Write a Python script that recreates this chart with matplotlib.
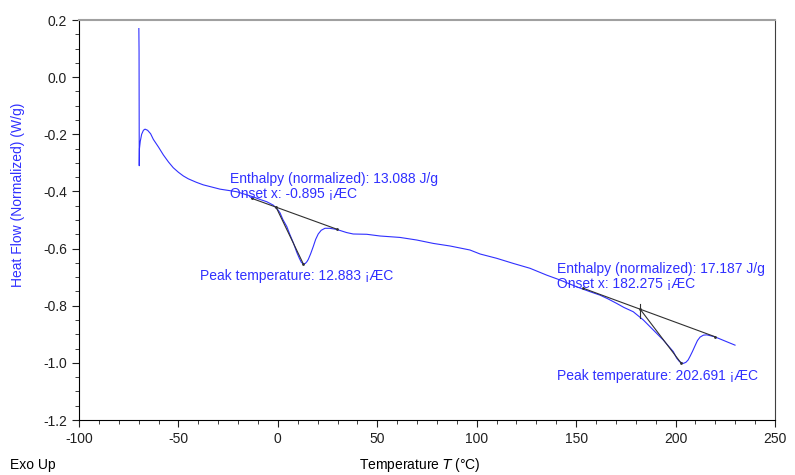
import matplotlib.pyplot as plt
from matplotlib.ticker import MultipleLocator

plt.rcParams['font.family'] = ['Liberation Sans', 'DejaVu Sans']
plt.rcParams['axes.unicode_minus'] = False

# DSC curve
temp = [-69.9, -69.8, -69.7, -69.6, -69.2, -68.5, -67.6, -66.8, -65.5, -64.0, -62.6, -60.0,
        -57.6, -55.0, -52.6, -50.0, -47.5, -45.0, -41.0, -37.5, -33.0, -29.1, -20.7, -12.4,
        -9.0, -5.6, -2.3, 0.1, 1.1, 2.5, 4.5, 6.0, 7.8, 9.5, 10.8, 11.8, 12.8, 13.8, 14.6,
        15.3, 16.5, 17.8, 19.0, 20.3, 21.8, 23.7, 26.0, 29.6, 34.6, 37.9, 44.7, 51.4, 61.4,
        69.8, 78.2, 86.6, 96.6, 101.7, 110.0, 118.4, 126.8, 135.2, 141.9, 150.3, 157.0,
        162.0, 166.0, 170.4, 174.0, 178.7, 183.8, 188.8, 193.8, 198.9, 200.5, 202.0, 203.9,
        205.2, 206.3, 207.3, 208.5, 209.8, 211.0, 212.3, 214.0, 215.7, 217.5, 219.8, 225.7,
        229.9]
heat = [0.170, 0.090, -0.310, -0.250, -0.225, -0.200, -0.186, -0.182, -0.186, -0.198, -0.218, -0.245,
        -0.272, -0.297, -0.317, -0.333, -0.346, -0.356, -0.368, -0.377, -0.385, -0.392, -0.401, -0.419,
        -0.428, -0.436, -0.448, -0.465, -0.475, -0.498, -0.523, -0.550, -0.580, -0.613, -0.634, -0.648, -0.654, -0.652, -0.646,
        -0.638, -0.618, -0.593, -0.568, -0.549, -0.536, -0.529, -0.529, -0.533, -0.544, -0.549, -0.550, -0.556, -0.561,
        -0.570, -0.582, -0.591, -0.605, -0.619, -0.634, -0.652, -0.669, -0.693, -0.710, -0.734, -0.751,
        -0.763, -0.776, -0.792, -0.806, -0.821, -0.850, -0.885, -0.920, -0.961, -0.983, -0.996, -1.002,
        -0.998, -0.990, -0.977, -0.960, -0.940, -0.922, -0.910, -0.903, -0.902, -0.905, -0.909, -0.926,
        -0.938]

# baselines and onset construction lines
base1_x = [-13.2, 29.6]
base1_y = [-0.424, -0.532]
onset1_x = [-0.895, 12.883]
onset1_y = [-0.455, -0.655]
base2_x = [153.6, 219.8]
base2_y = [-0.739, -0.9085]
onset2_x = [182.275, 202.691]
onset2_y = [-0.813, -1.0]

blue = '#3030ff'
fig = plt.figure(figsize=(7.95, 4.75), dpi=100)
ax = fig.add_axes([79/795, 1-420/475, 696/795, 400/475])

ax.plot(temp, heat, color=blue, lw=0.8)
for bx, by in [(base1_x, base1_y), (onset1_x, onset1_y), (base2_x, base2_y), (onset2_x, onset2_y)]:
    ax.plot(bx, by, color='#303030', lw=0.8, marker='.', ms=2)
ax.plot([182.275, 182.275], [-0.794, -0.844], color='#303030', lw=0.8)

fs = 10
ax.text(-24.1, -0.3565, 'Enthalpy (normalized): 13.088 J/g', color=blue, fontsize=fs, va='center')
ax.text(-24.1, -0.409, 'Onset x: -0.895 ¡ÆC', color=blue, fontsize=fs, va='center')
ax.text(-39.2, -0.696, 'Peak temperature: 12.883 ¡ÆC', color=blue, fontsize=fs, va='center')
ax.text(140.4, -0.6715, 'Enthalpy (normalized): 17.187 J/g', color=blue, fontsize=fs, va='center')
ax.text(140.4, -0.724, 'Onset x: 182.275 ¡ÆC', color=blue, fontsize=fs, va='center')
ax.text(140.4, -1.046, 'Peak temperature: 202.691 ¡ÆC', color=blue, fontsize=fs, va='center')

ax.set_xlim(-100, 250)
ax.set_ylim(-1.2, 0.2)
ax.xaxis.set_major_locator(MultipleLocator(50))
ax.xaxis.set_minor_locator(MultipleLocator(10))
ax.yaxis.set_major_locator(MultipleLocator(0.2))
ax.yaxis.set_minor_locator(MultipleLocator(0.05))
ax.yaxis.set_major_formatter(plt.FuncFormatter(lambda v, p: '%.1f' % v))
ax.tick_params(which='major', length=5, labelsize=fs, colors='#202020')
ax.tick_params(which='minor', length=3, colors='#202020')
ax.spines['top'].set_color('#a0a0a0')
ax.spines['top'].set_linewidth(1.5)
ax.spines['right'].set_color('#404040')

fig.text(18/795, 1-195/475, 'Heat Flow (Normalized) (W/g)', color=blue, fontsize=fs,
         rotation=90, ha='center', va='center')
fig.text(420/795, 1-465/475, 'Temperature $\\mathit{T}$ (°C)', fontsize=fs, ha='center', va='center')
fig.text(10/795, 1-465/475, 'Exo Up', fontsize=fs, ha='left', va='center')

fig.savefig('out.png', dpi=100)
